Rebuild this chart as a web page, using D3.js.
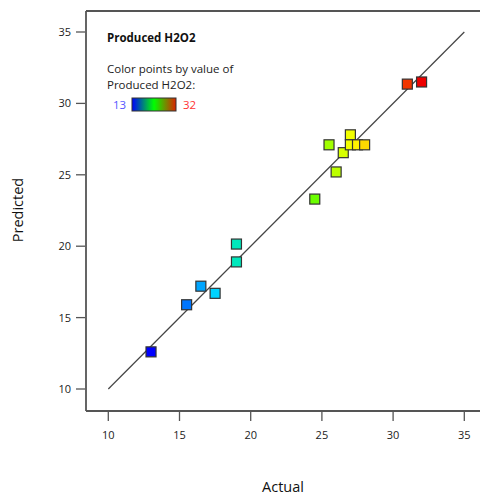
<!DOCTYPE html>
<html>
<head>
<meta charset="utf-8">
<script src="https://cdn.jsdelivr.net/npm/d3@7"></script>
<style>
  body { margin: 0; background: #fff; }
  svg { display: block; font-family: "Open Sans", "Noto Sans", sans-serif; }
</style>
</head>
<body>
<div id="chart"></div>
<script>
// --- data ---
const actual    = [13, 15.5, 16.5, 17.5, 19, 19, 24.5, 25.5, 26, 26.5, 27, 27, 27.5, 28, 31, 32];
const predicted = [12.6, 15.9, 17.2, 16.7, 18.9, 20.15, 23.3, 27.1, 25.2, 26.55, 27.8, 27.1, 27.1, 27.1, 31.35, 31.5];
const xTicks = [10, 15, 20, 25, 30, 35];
const yTicks = [10, 15, 20, 25, 30, 35];
const colorMin = 13, colorMax = 32;

const width = 480, height = 495;
const svg = d3.select("#chart").append("svg")
  .attr("width", width).attr("height", height);

const x = d3.scaleLinear().domain([10, 35]).range([108.3, 464.3]);
const y = d3.scaleLinear().domain([10, 35]).range([389, 32]);

// Rahmen: linke Achse bei 86, unten bei 411, oben bei 11
const frameLeft = 86, frameBottom = 411, frameTop = 11;
const axisColor = "#555";

// Regenbogen wie in Design-Expert
const color = d3.scaleLinear()
  .domain([0, 0.25, 0.5, 0.75, 1].map(t => colorMin + t * (colorMax - colorMin)))
  .range(["#0000ff", "#00e0ff", "#00ff00", "#ffff00", "#ee0000"])
  .clamp(true);

// frame
svg.append("line").attr("x1", frameLeft).attr("x2", width).attr("y1", frameTop).attr("y2", frameTop)
  .attr("stroke", axisColor).attr("stroke-width", 1.8);
svg.append("line").attr("x1", frameLeft).attr("x2", frameLeft).attr("y1", frameTop).attr("y2", frameBottom)
  .attr("stroke", axisColor).attr("stroke-width", 1.8);
svg.append("line").attr("x1", frameLeft).attr("x2", width).attr("y1", frameBottom).attr("y2", frameBottom)
  .attr("stroke", axisColor).attr("stroke-width", 1.8);

// x ticks
const xt = svg.append("g").selectAll("g").data(xTicks).join("g");
xt.append("line").attr("x1", d => x(d)).attr("x2", d => x(d))
  .attr("y1", frameBottom + 1).attr("y2", frameBottom + 10)
  .attr("stroke", axisColor).attr("stroke-width", 1.3);
xt.append("text").attr("x", d => x(d)).attr("y", 439)
  .attr("text-anchor", "middle").attr("font-size", 11).attr("fill", "#222")
  .text(d => d);

// y ticks
const yt = svg.append("g").selectAll("g").data(yTicks).join("g");
yt.append("line").attr("x1", frameLeft - 10).attr("x2", frameLeft - 1)
  .attr("y1", d => y(d)).attr("y2", d => y(d))
  .attr("stroke", axisColor).attr("stroke-width", 1.3);
yt.append("text").attr("x", 71).attr("y", d => y(d) + 4)
  .attr("text-anchor", "end").attr("font-size", 11).attr("fill", "#222")
  .text(d => d);

// axis titles
svg.append("text").attr("x", 283).attr("y", 492).attr("text-anchor", "middle")
  .attr("font-size", 14.5).attr("fill", "#111").text("Actual");
svg.append("text").attr("transform", "translate(23,210) rotate(-90)")
  .attr("text-anchor", "middle").attr("font-size", 14.5).attr("fill", "#111").text("Predicted");

// 1:1 line
svg.append("line").attr("x1", x(10)).attr("y1", y(10)).attr("x2", x(35)).attr("y2", y(35))
  .attr("stroke", "#444").attr("stroke-width", 1.2);

// points
const s = 10;
svg.append("g").selectAll("rect").data(actual.map((a, i) => ({ a, p: predicted[i] })))
  .join("rect")
  .attr("x", d => x(d.a) - s / 2).attr("y", d => y(d.p) - s / 2)
  .attr("width", s).attr("height", s)
  .attr("fill", d => color(d.a))
  .attr("stroke", "#333").attr("stroke-width", 1.2);

// legend
svg.append("text").attr("x", 107).attr("y", 42).attr("font-size", 11.5)
  .attr("font-weight", "bold").attr("fill", "#111").text("Produced H2O2");
svg.append("text").attr("x", 107).attr("y", 73).attr("font-size", 11.5)
  .attr("fill", "#222").text("Color points by value of");
svg.append("text").attr("x", 107).attr("y", 89).attr("font-size", 11.5)
  .attr("fill", "#222").text("Produced H2O2:");

const grad = svg.append("defs").append("linearGradient").attr("id", "lg");
grad.selectAll("stop").data([
  { o: 0, c: "#0000ff" }, { o: 0.5, c: "#00ff00" }, { o: 1, c: "#dd2200" }
]).join("stop").attr("offset", d => d.o).attr("stop-color", d => d.c);
svg.append("rect").attr("x", 132).attr("y", 98).attr("width", 44).attr("height", 13)
  .attr("fill", "url(#lg)").attr("stroke", "#333").attr("stroke-width", 1);
svg.append("text").attr("x", 113).attr("y", 109).attr("font-size", 11.5)
  .attr("fill", "#5555ff").text(colorMin);
svg.append("text").attr("x", 183).attr("y", 109).attr("font-size", 11.5)
  .attr("fill", "#ff3333").text(colorMax);
</script>
</body>
</html>
